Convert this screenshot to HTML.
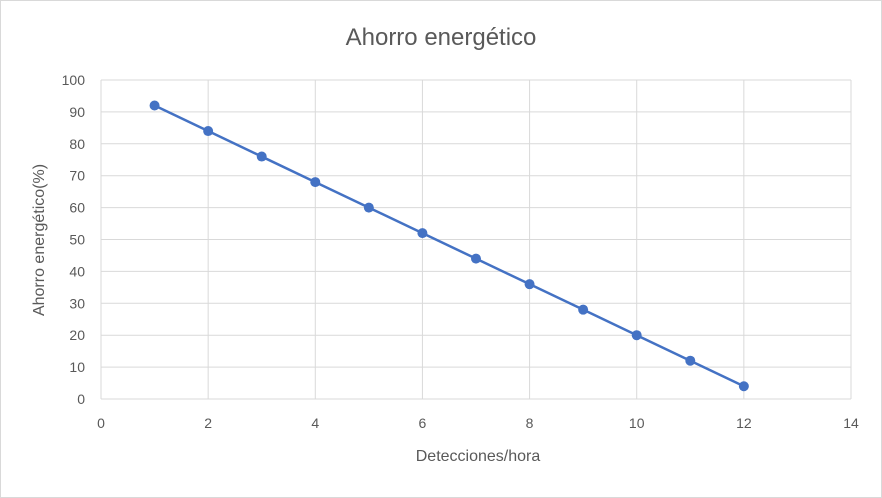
<!DOCTYPE html>
<html><head><meta charset="utf-8"><style>
body{margin:0;background:#fff;}
svg{display:block;font-family:"Liberation Sans",sans-serif;}
</style></head><body>
<svg id="c" width="882" height="498">
<rect x="0.5" y="0.5" width="881" height="497" fill="#fff" stroke="#d9d9d9"/>
<text x="441" y="45" text-anchor="middle" font-size="24" fill="#595959">Ahorro energético</text>
<text x="478" y="461" text-anchor="middle" font-size="16" fill="#595959">Detecciones/hora</text>
<text transform="translate(44,240) rotate(-90)" text-anchor="middle" font-size="16" fill="#595959">Ahorro energético(%)</text>
<g id="grid"></g><g id="ticks"></g><g id="series"></g>
</svg>
<script>
const xValues=[1,2,3,4,5,6,7,8,9,10,11,12];
const yValues=[92,84,76,68,60,52,44,36,28,20,12,4];
const xTicks=[0,2,4,6,8,10,12,14];
const yTicks=[0,10,20,30,40,50,60,70,80,90,100];
const NS="http://www.w3.org/2000/svg";
const X0=101,X1=851,Y0=399,Y1=80;
const sx=v=>X0+(v/14)*(X1-X0);
const sy=v=>Y0-(v/100)*(Y0-Y1);
function mk(t,a,p){const e=document.createElementNS(NS,t);for(const k in a)e.setAttribute(k,a[k]);p.appendChild(e);return e;}
const grid=document.getElementById('grid'),ticks=document.getElementById('ticks'),ser=document.getElementById('series');
yTicks.forEach(v=>{
 const l=mk('line',{x1:X0,x2:X1,y1:sy(v),y2:sy(v),stroke:'#d9d9d9','stroke-width':1},grid);
 
 
 const t=mk('text',{x:X0-16,y:sy(v)+5,'text-anchor':'end','font-size':14,fill:'#595959'},ticks);
 t.textContent=v;
 
 
});
xTicks.forEach(v=>{
 const l=mk('line',{x1:sx(v),x2:sx(v),y1:Y1,y2:Y0,stroke:'#d9d9d9','stroke-width':1},grid);
 
 
 const t=mk('text',{x:sx(v),y:Y0+29,'text-anchor':'middle','font-size':14,fill:'#595959'},ticks);
 t.textContent=v;
 
 
});
const pl=mk('polyline',{points:xValues.map((x,i)=>sx(x)+','+sy(yValues[i])).join(' '),fill:'none',stroke:'#4472c4','stroke-width':2.5},ser);


xValues.forEach((x,i)=>{
 const c=mk('circle',{cx:sx(x),cy:sy(yValues[i]),r:5,fill:'#4472c4'},ser);
 
 
});
</script>
</body></html>
